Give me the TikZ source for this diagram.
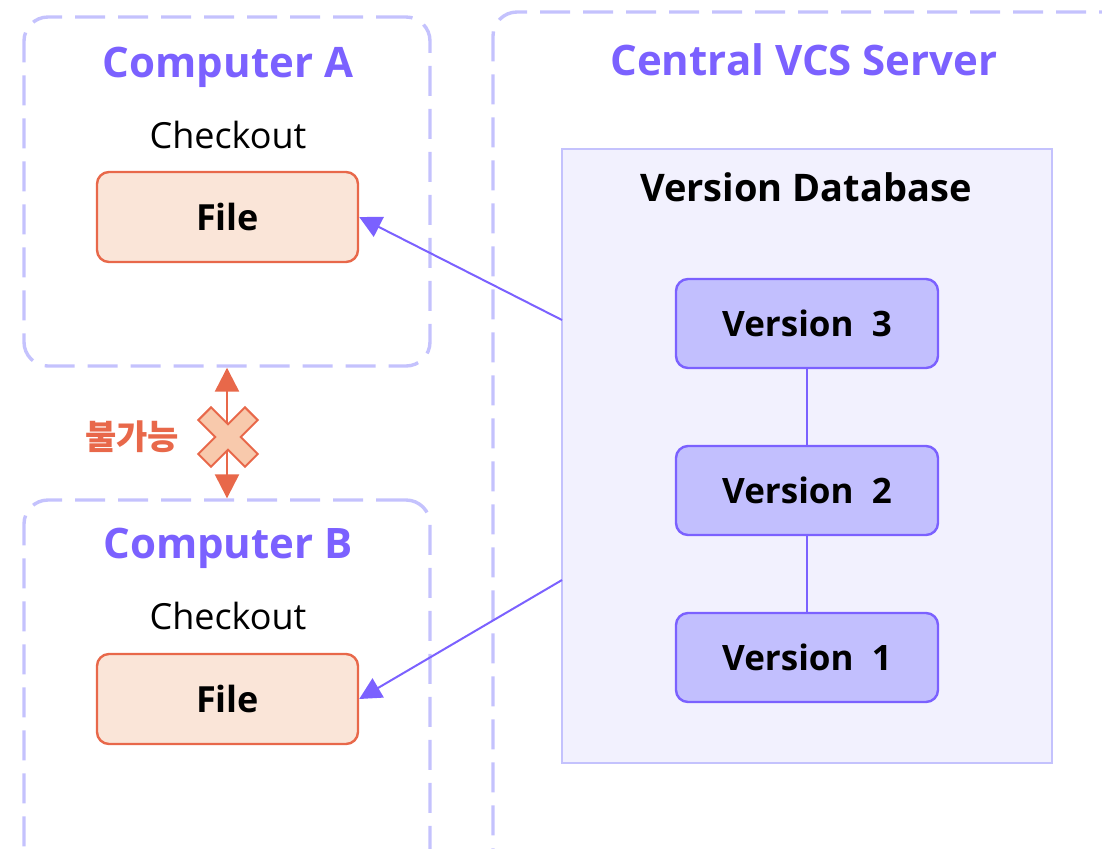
\documentclass[tikz,border=0pt]{standalone}
\usepackage{fontspec}
\setmainfont{Open Sans}
\newfontfamily\kofont{Noto Sans CJK KR}
\usetikzlibrary{positioning,arrows.meta}

\definecolor{grpline}{HTML}{C4C2FD}
\definecolor{titlecol}{HTML}{7B61FF}
\definecolor{dbfill}{HTML}{F2F1FE}
\definecolor{verfill}{HTML}{C2BFFE}
\definecolor{fileline}{HTML}{E8684A}
\definecolor{filefill}{HTML}{FAE5D8}
\definecolor{crossfill}{HTML}{F8C9AC}

\tikzset{
  grpbox/.style={draw=grpline, line width=1.7pt, dash pattern=on 15pt off 6.5pt,
    rounded corners=12pt, minimum width=203pt},
  grptitle/.style={text=titlecol, font=\fontsize{21}{26}\selectfont\bfseries},
  subtitle/.style={font=\fontsize{18}{22}\selectfont},
  filebox/.style={draw=fileline, fill=filefill, line width=1.2pt, rounded corners=6pt,
    minimum width=130.5pt, minimum height=45pt, font=\fontsize{18}{22}\selectfont\bfseries},
  verbox/.style={draw=titlecol, fill=verfill, line width=1.2pt, rounded corners=6pt,
    minimum width=131pt, minimum height=44.5pt, font=\fontsize{17.5}{22}\selectfont\bfseries},
  fetch/.style={titlecol, line width=1pt, -{Triangle[length=11pt,width=11pt]}},
  nope/.style={fileline, line width=1.2pt, {Triangle[length=12pt,width=12pt]}-{Triangle[length=12pt,width=12pt]}},
}

\begin{document}
\begin{tikzpicture}[x=0.5pt,y=-0.5pt]
  \useasboundingbox (0,0) rectangle (1102,848);
  \clip (0,0) rectangle (1102,848);

  % Computer A
  \node[grpbox, minimum height=174.5pt] (compA) at (227,191.5) {};
  \node[grptitle] (titleA) at (228,67) {Computer A};
  \node[subtitle] (chkA) at (228,135) {Checkout};
  \node[filebox] (fileA) at (227.5,217) {File};

  % Computer B (runs off the bottom)
  \node[grpbox, minimum height=190pt] (compB) at (227,690) {};
  \node[grptitle] (titleB) at (228,548) {Computer B};
  \node[subtitle] (chkB) at (228,616) {Checkout};
  \node[filebox] (fileB) at (227.5,699) {File};

  % Central server (runs off right and bottom)
  \node[grpbox, minimum width=330pt, minimum height=440pt] (server) at (823,452) {};
  \node[grptitle] (titleS) at (804,60) {Central VCS Server};

  % Version database
  \node[draw=grpline, fill=dbfill, line width=1pt, minimum width=245pt, minimum height=307pt] (db) at (807,456) {};
  \node[font=\fontsize{19}{23}\selectfont\bfseries] (dbtitle) at (806,187) {Version Database};

  \node[verbox] (v3) at (807,323.5) {Version\ \ 3};
  \node[verbox] (v2) at (807,490.5) {Version\ \ 2};
  \node[verbox] (v1) at (807,657.5) {Version\ \ 1};
  \draw[titlecol, line width=1pt] (v3) -- (v2);
  \draw[titlecol, line width=1pt] (v2) -- (v1);

  % checkouts
  \coordinate (outA) at (562,320);
  \coordinate (outB) at (562,580);
  \draw[fetch] (outA) -- (fileA.east);
  \draw[fetch] (outB) -- (fileB.east);

  % no direct exchange between computers
  \draw[nope] (compA.south) -- (compB.north);
  \coordinate (cross) at (228,437);
  \begin{scope}[shift={(cross)}, rotate=45]
    \filldraw[fill=crossfill, draw=fileline, line width=1pt]
      (33,9) -- (9,9) -- (9,33) -- (-9,33) -- (-9,9) -- (-33,9) -- (-33,-9)
      -- (-9,-9) -- (-9,-33) -- (9,-33) -- (9,-9) -- (33,-9) -- cycle;
  \end{scope}
  \node[text=fileline, font=\kofont\fontsize{17}{20}\selectfont\bfseries, left=21pt of cross] (nolabel) {불가능};
\end{tikzpicture}
\end{document}
